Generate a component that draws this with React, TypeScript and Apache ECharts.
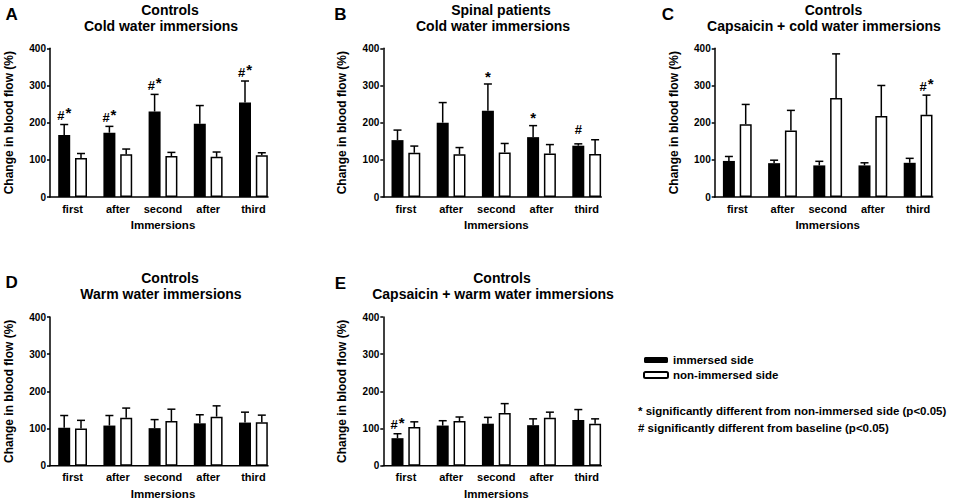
import React, { useEffect, useRef } from "react";
import * as echarts from "echarts";

const categories = ["first", "after", "second", "after", "third"];
const yTicks = { min: 0, max: 400, interval: 100 };

const panelLetters = ["A", "B", "C", "D", "E"];
const panelGroups = ["Controls", "Spinal patients", "Controls", "Controls", "Controls"];
const panelConditions = [
  "Cold water immersions",
  "Cold water immersions",
  "Capsaicin + cold water immersions",
  "Warm water immersions",
  "Capsaicin + warm water immersions",
];

// Panel A
const aImmersedMean = [167, 173, 230, 197, 254];
const aImmersedSem = [28, 17, 46, 49, 58];
const aNonMean = [105, 115, 110, 108, 112];
const aNonSem = [12, 14, 10, 13, 7];
const aImmersedSig = ["#*", "#*", "#*", "", "#*"];
const aNonSig = ["", "", "", "", ""];
// Panel B
const bImmersedMean = [153, 200, 232, 161, 138];
const bImmersedSem = [27, 54, 72, 31, 5];
const bNonMean = [119, 115, 120, 117, 116];
const bNonSem = [18, 18, 24, 24, 38];
const bImmersedSig = ["", "", "*", "*", "#"];
const bNonSig = ["", "", "", "", ""];
// Panel C
const cImmersedMean = [97, 91, 85, 85, 92];
const cImmersedSem = [12, 8, 11, 7, 12];
const cNonMean = [196, 179, 266, 218, 221];
const cNonSem = [53, 54, 119, 82, 53];
const cImmersedSig = ["", "", "", "", ""];
const cNonSig = ["", "", "", "", "#*"];
// Panel D
const dImmersedMean = [102, 108, 101, 114, 116];
const dImmersedSem = [33, 27, 23, 23, 28];
const dNonMean = [100, 129, 120, 132, 117];
const dNonSem = [22, 26, 32, 29, 19];
const dImmersedSig = ["", "", "", "", ""];
const dNonSig = ["", "", "", "", ""];
// Panel E
const eImmersedMean = [74, 108, 113, 109, 123];
const eImmersedSem = [12, 13, 17, 17, 28];
const eNonMean = [104, 120, 142, 129, 113];
const eNonSem = [14, 11, 25, 15, 13];
const eImmersedSig = ["#*", "", "", "", ""];
const eNonSig = ["", "", "", "", ""];

const seriesNames = ["immersed side", "non-immersed side"];
const yAxisName = "Change in blood flow (%)";
const xAxisName = "Immersions";
const footnotes = [
  "* significantly different from non-immersed side (p<0.05)",
  "# significantly different from baseline (p<0.05)",
];

const panels = [
  { im: aImmersedMean, ims: aImmersedSem, nm: aNonMean, nms: aNonSem, isig: aImmersedSig, nsig: aNonSig },
  { im: bImmersedMean, ims: bImmersedSem, nm: bNonMean, nms: bNonSem, isig: bImmersedSig, nsig: bNonSig },
  { im: cImmersedMean, ims: cImmersedSem, nm: cNonMean, nms: cNonSem, isig: cImmersedSig, nsig: cNonSig },
  { im: dImmersedMean, ims: dImmersedSem, nm: dNonMean, nms: dNonSem, isig: dImmersedSig, nsig: dNonSig },
  { im: eImmersedMean, ims: eImmersedSem, nm: eNonMean, nms: eNonSem, isig: eImmersedSig, nsig: eNonSig },
];

// layout (positions only)
const gridLefts = [50, 383.3, 714.7, 50, 383.3];
const gridTops = [48.3, 48.3, 48.3, 317, 317];
const gridWidth = 226;
const gridHeight = 148.7;
const titleX1 = [170, 501, 833.5, 170, 502];
const titleX2 = [161, 493, 824, 161, 493];
const titleY1 = [9.5, 9.5, 9.5, 278.3, 278.3];
const titleY2 = [25.5, 25.5, 25.5, 293.8, 294.3];
const letterX = [11.7, 340.5, 668, 11.7, 340.5];
const letterY = [14.3, 14, 14, 282.7, 283.7];

const FONT = "'Liberation Sans', Arial, Helvetica, sans-serif";
const BAR_W = 12;
const OFFSET = 8.4;

function errorSeries(gi: number, means: number[], sems: number[], sigs: string[], offset: number, name: string) {
  return {
    type: "custom",
    name,
    xAxisIndex: gi,
    yAxisIndex: gi,
    z: 5,
    silent: true,
    data: means.map((m, i) => [i, m, m + sems[i]]),
    encode: { x: 0, y: [1, 2] },
    renderItem: (params: any, api: any) => {
      const i = api.value(0);
      const base = api.coord([i, api.value(1)]);
      const top = api.coord([i, api.value(2)]);
      const x = base[0] + offset;
      const ty = top[1];
      const ls = { stroke: "#000", lineWidth: 1.5 };
      const children: any[] = [
        { type: "line", shape: { x1: x, y1: base[1], x2: x, y2: ty }, style: ls },
        { type: "line", shape: { x1: x - 4, y1: ty, x2: x + 4, y2: ty }, style: ls },
      ];
      const sig = sigs[params.dataIndex];
      const ts = (text: string, align: string, size: number) => ({
        text,
        align,
        verticalAlign: "middle",
        fontSize: size,
        fontWeight: "bold",
        fontFamily: FONT,
        fill: "#000",
      });
      if (sig === "#*") {
        children.push({ type: "text", x: x + 0.3, y: ty - 8.8, style: ts("#", "right", 13) });
        children.push({ type: "text", x: x + 1.2, y: ty - 11.6, style: ts("*", "left", 15) });
      } else if (sig === "*") {
        children.push({ type: "text", x: x, y: ty - 7.8, style: ts("*", "center", 15) });
      } else if (sig === "#") {
        children.push({ type: "text", x: x, y: ty - 14.5, style: ts("#", "center", 13) });
      }
      return { type: "group", children };
    },
  };
}

// x-axis baseline that stops at the right edge of the last bar pair (as in the original)
function baselineSeries(gi: number) {
  return {
    type: "custom",
    xAxisIndex: gi,
    yAxisIndex: gi,
    z: 6,
    silent: true,
    data: [[categories.length - 1, 0]],
    encode: { x: 0, y: 1 },
    renderItem: (params: any, api: any) => {
      const cs = params.coordSys;
      const end = api.coord([api.value(0), api.value(1)]);
      const x2 = end[0] + OFFSET + BAR_W / 2 + 0.75;
      return {
        type: "line",
        shape: { x1: cs.x - 0.75, y1: end[1], x2, y2: end[1] },
        style: { stroke: "#000", lineWidth: 1.5 },
      };
    },
  };
}

function buildOption() {
  const grid: any[] = [];
  const xAxis: any[] = [];
  const yAxis: any[] = [];
  const series: any[] = [];
  const graphic: any[] = [];
  const axisLineStyle = { color: "#000", width: 1.5 };

  panels.forEach((p, gi) => {
    grid.push({ left: gridLefts[gi], top: gridTops[gi], width: gridWidth, height: gridHeight, containLabel: false });
    xAxis.push({
      type: "category",
      gridIndex: gi,
      data: categories,
      axisTick: { show: false },
      axisLine: { show: false },
      axisLabel: { interval: 0, color: "#000", fontSize: 11, fontWeight: "bold", fontFamily: FONT, margin: 6 },
      name: xAxisName,
      nameLocation: "middle",
      nameGap: 22,
      nameTextStyle: { color: "#000", fontSize: 11.5, fontWeight: "bold", fontFamily: FONT },
    });
    yAxis.push({
      type: "value",
      gridIndex: gi,
      min: yTicks.min,
      max: yTicks.max,
      interval: yTicks.interval,
      splitLine: { show: false },
      axisLine: { show: true, lineStyle: axisLineStyle },
      axisTick: { show: true, length: 3, lineStyle: axisLineStyle },
      axisLabel: { color: "#000", fontSize: 10, fontWeight: "bold", fontFamily: FONT, margin: 4 },
      name: yAxisName,
      nameLocation: "middle",
      nameGap: 35,
      nameTextStyle: { color: "#000", fontSize: 12, fontWeight: "bold", fontFamily: FONT },
    });
    series.push({
      type: "bar",
      name: seriesNames[0],
      xAxisIndex: gi,
      yAxisIndex: gi,
      data: p.im,
      barWidth: BAR_W,
      barGap: "40%",
      itemStyle: { color: "#000", borderColor: "#000", borderWidth: 0 },
    });
    series.push({
      type: "bar",
      name: seriesNames[1],
      xAxisIndex: gi,
      yAxisIndex: gi,
      data: p.nm,
      barWidth: BAR_W,
      barGap: "40%",
      itemStyle: { color: "#fff", borderColor: "#000", borderWidth: 1.5 },
    });
  });
  panels.forEach((p, gi) => {
    series.push(errorSeries(gi, p.im, p.ims, p.isig, -OFFSET, seriesNames[0]));
    series.push(errorSeries(gi, p.nm, p.nms, p.nsig, OFFSET, seriesNames[1]));
    series.push(baselineSeries(gi));
  });

  const txt = (text: string, x: number, y: number, size: number, align = "center") => ({
    type: "text",
    x,
    y,
    style: {
      text,
      align,
      verticalAlign: "middle",
      fontSize: size,
      fontWeight: "bold",
      fontFamily: FONT,
      fill: "#000",
    },
  });
  panelLetters.forEach((l, i) => {
    graphic.push(txt(l, letterX[i], letterY[i], 17));
    graphic.push(txt(panelGroups[i], titleX1[i], titleY1[i], 14));
    graphic.push(txt(panelConditions[i], titleX2[i], titleY2[i], 14));
  });
  graphic.push(txt(footnotes[0], 638, 410.5, 11.5, "left"));
  graphic.push(txt(footnotes[1], 638, 427.5, 11.5, "left"));

  return {
    animation: false,
    backgroundColor: "#fff",
    grid,
    xAxis,
    yAxis,
    series,
    graphic,
    legend: {
      data: seriesNames,
      orient: "vertical",
      left: 643,
      top: 354,
      itemWidth: 24,
      itemHeight: 6,
      itemGap: 3,
      padding: 0,
      textStyle: { color: "#000", fontSize: 11.5, fontWeight: "bold", fontFamily: FONT },
    },
  };
}

export default function App() {
  const ref = useRef<HTMLDivElement>(null);
  useEffect(() => {
    if (!ref.current) return;
    const chart = echarts.init(ref.current, undefined, { renderer: "svg" });
    chart.setOption(buildOption() as any);
    return () => chart.dispose();
  }, []);
  return (
    <div
      ref={ref}
      style={{ position: "absolute", left: 0, top: 0, width: 957, height: 502, background: "#fff" }}
    />
  );
}
